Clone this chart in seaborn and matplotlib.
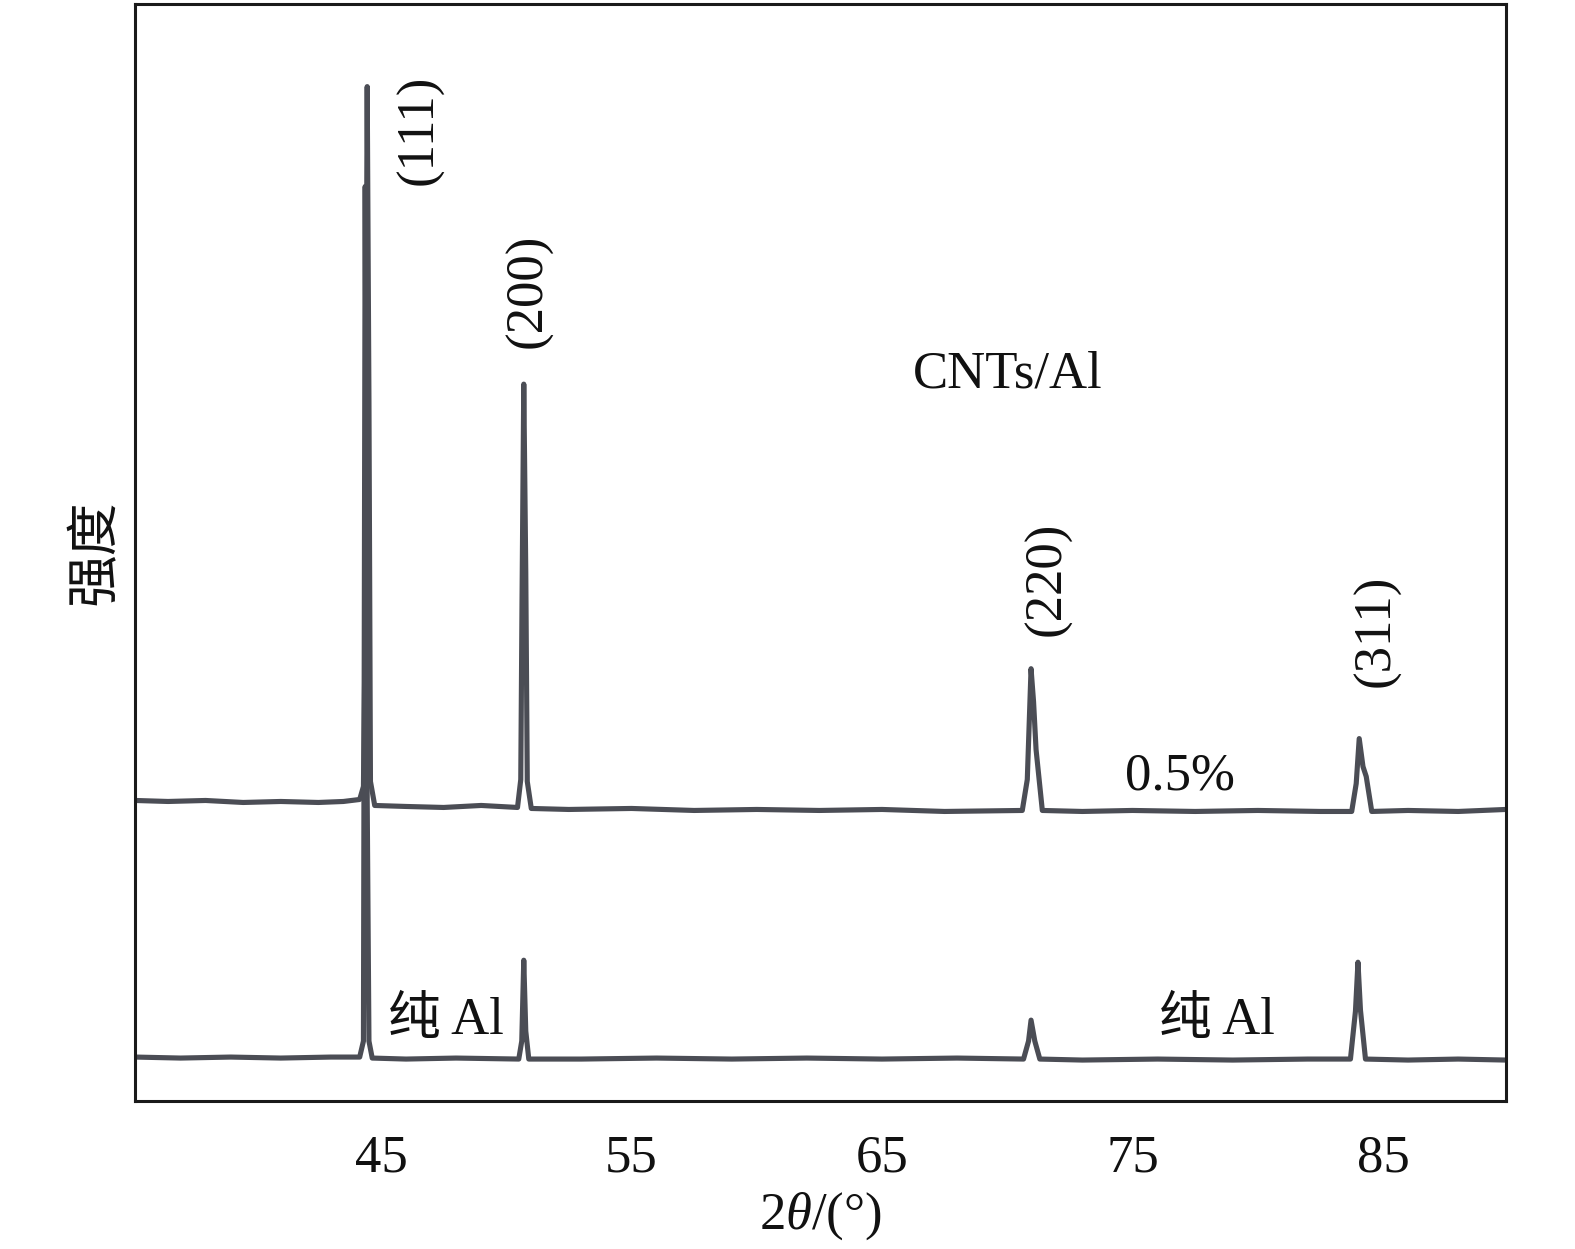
import numpy as np
import pandas as pd
import matplotlib
matplotlib.use("Agg")
import matplotlib.pyplot as plt
import seaborn as sns

# 2theta positions and intensities (arbitrary units)
cnt_two_theta = [35.2, 36.5, 38.0, 39.5, 41.0, 42.5, 43.5, 44.15, 44.3, 44.35, 44.45, 44.52,
                 44.58, 44.75, 46.0, 47.5, 49.0, 50.45, 50.58, 50.63, 50.7, 50.78, 50.84, 51.0,
                 52.5, 55.0, 57.5, 60.0, 62.5, 65.0, 67.5, 70.6, 70.8, 70.95, 71.05, 71.15,
                 71.4, 73.0, 75.0, 77.5, 80.0, 82.5, 83.75, 83.93, 84.05, 84.2, 84.33, 84.55,
                 86.0, 88.0, 89.9]
cnt_intensity = [301, 300, 301, 299, 300, 299, 300, 302, 315, 430, 1016, 700,
                 320, 296, 295, 294, 296, 294, 322, 500, 718, 530, 320, 293,
                 292, 293, 291, 292, 291, 292, 290, 291, 322, 433, 400, 352,
                 291, 290, 291, 290, 291, 290, 290, 318, 363, 335, 325, 290,
                 291, 290, 292]

al_two_theta = [35.2, 37.0, 39.0, 41.0, 43.0, 44.15, 44.3, 44.37, 44.45, 44.52, 44.65,
                46.0, 48.0, 50.5, 50.62, 50.7, 50.78, 50.9, 53.0, 56.0, 59.0, 62.0,
                65.0, 68.0, 70.65, 70.85, 70.95, 71.1, 71.3, 73.0, 76.0, 79.0, 82.0,
                83.7, 83.9, 84.0, 84.1, 84.3, 86.0, 88.0, 89.9]
al_intensity = [44, 43, 44, 43, 44, 44, 60, 916, 300, 60, 43,
                42, 43, 42, 60, 141, 70, 42, 42, 43, 42, 43,
                42, 43, 42, 60, 81, 60, 42, 41, 42, 41, 42,
                42, 90, 139, 91, 42, 41, 42, 41]

peak_labels = ["(111)", "(200)", "(220)", "(311)"]
peak_label_x = [46.55, 50.9, 71.62, 84.75]
peak_label_y = [973, 811, 523, 471]

cnt_df = pd.DataFrame({"two_theta": cnt_two_theta, "intensity": cnt_intensity})
al_df = pd.DataFrame({"two_theta": al_two_theta, "intensity": al_intensity})

sns.set_style("white")
plt.rcParams["font.family"] = ["Liberation Serif", "Noto Sans CJK SC"]
plt.rcParams["mathtext.fontset"] = "custom"
plt.rcParams["mathtext.rm"] = "Liberation Serif"
plt.rcParams["mathtext.it"] = "Liberation Serif:italic"

fig = plt.figure(figsize=(15.75, 12.49), dpi=100)
ax = fig.add_axes([0.0857, 0.1185, 0.8705, 0.8785])

line_color = "#4b4d55"
sns.lineplot(data=cnt_df, x="two_theta", y="intensity", ax=ax, color=line_color,
             linewidth=3.7, estimator=None, sort=False)
sns.lineplot(data=al_df, x="two_theta", y="intensity", ax=ax, color=line_color,
             linewidth=3.7, estimator=None, sort=False)

ax.set_xlim(35.18, 89.91)
ax.set_ylim(0, 1099)
ax.set_xticks([45, 55, 65, 75, 85])
ax.set_yticks([])
ax.tick_params(axis="x", direction="in", length=12, width=1.5, labelsize=38, pad=24,
               colors="#111111")

for spine in ax.spines.values():
    spine.set_linewidth(2.2)
    spine.set_color("#1a1a1a")

fs = 38
for lab, lx, ly in zip(peak_labels, peak_label_x, peak_label_y):
    ax.text(lx, ly, lab, rotation=90, ha="center", va="center", fontsize=fs, color="#111111")

ax.text(70.0, 728, "CNTs/Al", ha="center", va="center", fontsize=fs, color="#111111")
ax.text(76.9, 325, "0.5%", ha="center", va="center", fontsize=fs, color="#111111")
ax.text(47.6, 80, "纯 Al", ha="center", va="center", fontsize=fs, color="#111111")
ax.text(78.35, 80, "纯 Al", ha="center", va="center", fontsize=fs, color="#111111")

ax.set_xlabel("2$\\theta$/(°)", fontsize=fs, labelpad=6, color="#111111")
ax.set_ylabel("强度", fontsize=fs, labelpad=10, color="#111111")

fig.savefig("out.png", dpi=100)
plt.close(fig)
